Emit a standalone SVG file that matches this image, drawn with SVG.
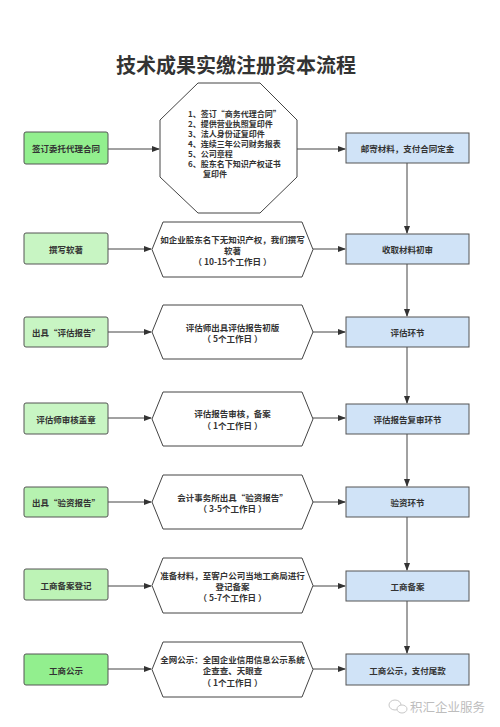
<svg xmlns="http://www.w3.org/2000/svg" width="500" height="727" viewBox="0 0 500 727">
<style>
text{font-family:"Noto Sans CJK SC","Liberation Sans",sans-serif;font-weight:bold;fill:#333;}
.t{font-size:8.5px;text-anchor:middle;dominant-baseline:central;}
.ol{font-size:8px;dominant-baseline:central;}
.g1{fill:#92ef8e;stroke:#555;stroke-width:1;}
.g2{fill:#c8f5c3;stroke:#555;stroke-width:1;}
.b{fill:#d0e3f7;stroke:#555;stroke-width:1;}
.s{fill:#fff;stroke:#444;stroke-width:1;}
.c{stroke:#444;stroke-width:1;fill:none;marker-end:url(#ah);}
</style>
<defs>
<marker id="ah" markerWidth="8" markerHeight="6" refX="7" refY="3" orient="auto" markerUnits="userSpaceOnUse">
<path d="M0,0 L8,3 L0,6 Z" fill="#333"/>
</marker>
</defs>
<rect width="500" height="727" fill="#fff"/>
<text x="236" y="73" style="font-size:20px;text-anchor:middle;fill:#333;">技术成果实缴注册资本流程</text>

<g id="connectors">
<line class="c" x1="108" y1="149" x2="159" y2="149"/>
<line class="c" x1="297" y1="149" x2="345" y2="149"/>
<line class="c" x1="108" y1="249" x2="151" y2="249"/>
<line class="c" x1="313" y1="249" x2="345" y2="249"/>
<line class="c" x1="108" y1="332" x2="151" y2="332"/>
<line class="c" x1="313" y1="332" x2="345" y2="332"/>
<line class="c" x1="108" y1="418" x2="151" y2="418"/>
<line class="c" x1="313" y1="418" x2="345" y2="418"/>
<line class="c" x1="108" y1="502" x2="151" y2="502"/>
<line class="c" x1="313" y1="502" x2="345" y2="502"/>
<line class="c" x1="108" y1="586" x2="151" y2="586"/>
<line class="c" x1="313" y1="586" x2="345" y2="586"/>
<line class="c" x1="108" y1="669" x2="151" y2="669"/>
<line class="c" x1="313" y1="669" x2="345" y2="669"/>
<line class="c" x1="407" y1="163" x2="407" y2="233"/>
<line class="c" x1="407" y1="264" x2="407" y2="316"/>
<line class="c" x1="407" y1="347" x2="407" y2="403"/>
<line class="c" x1="407" y1="434" x2="407" y2="486"/>
<line class="c" x1="407" y1="517" x2="407" y2="570"/>
<line class="c" x1="407" y1="601" x2="407" y2="653"/>
</g>

<g id="l1"><rect class="g1" x="24" y="132" width="84" height="32" rx="2"/><text class="t" x="66" y="148">签订委托代理合同</text></g>
<g id="m1"><polygon class="s" points="198,83 260,83 297,120 297,177 260,213 198,213 160,177 160,120"/>
<text class="ol" x="188" y="113">1、签订“商务代理合同”</text>
<text class="ol" x="188" y="123">2、提供营业执照复印件</text>
<text class="ol" x="188" y="133">3、法人身份证复印件</text>
<text class="ol" x="188" y="143">4、连续三年公司财务报表</text>
<text class="ol" x="188" y="153">5、公司章程</text>
<text class="ol" x="188" y="163">6、股东名下知识产权证书</text>
<text class="ol" x="203" y="173">复印件</text>
</g>
<g id="r1"><rect class="b" x="346" y="133" width="123" height="30"/><text class="t" x="407.5" y="148">邮寄材料，支付合同定金</text></g>

<g id="l2"><rect class="g2" x="24" y="233" width="84" height="31" rx="2"/><text class="t" x="66" y="248.5">撰写软著</text></g>
<g id="m2"><polygon class="s" points="163,222 302,222 313,249.5 302,277 163,277 152,249.5"/>
<text class="t" x="232.5" y="239">如企业股东名下无知识产权，我们撰写</text>
<text class="t" x="232.5" y="250">软著</text>
<text class="t" x="232.5" y="261">（ 10-15个工作日 ）</text></g>
<g id="r2"><rect class="b" x="346" y="234" width="123" height="30"/><text class="t" x="407.5" y="249">收取材料初审</text></g>

<g id="l3"><rect class="g2" x="24" y="317" width="84" height="30" rx="2"/><text class="t" x="66" y="332">出具“评估报告”</text></g>
<g id="m3"><polygon class="s" points="163,305 302,305 313,332 302,359 163,359 152,332"/>
<text class="t" x="232.5" y="327">评估师出具评估报告初版</text>
<text class="t" x="232.5" y="338">（ 5个工作日 ）</text></g>
<g id="r3"><rect class="b" x="346" y="317" width="123" height="30"/><text class="t" x="407.5" y="332">评估环节</text></g>

<g id="l4"><rect class="g2" x="24" y="403" width="84" height="31" rx="2"/><text class="t" x="66" y="418.5">评估师审核盖章</text></g>
<g id="m4"><polygon class="s" points="163,392 302,392 313,419 302,446 163,446 152,419"/>
<text class="t" x="232.5" y="413">评估报告审核，备案</text>
<text class="t" x="232.5" y="425">（ 1个工作日 ）</text></g>
<g id="r4"><rect class="b" x="346" y="404" width="123" height="30"/><text class="t" x="407.5" y="419">评估报告复审环节</text></g>

<g id="l5"><rect class="g2" x="24" y="487" width="84" height="30" rx="2" style="fill:#b6f2b0"/><text class="t" x="66" y="502">出具“验资报告”</text></g>
<g id="m5"><polygon class="s" points="163,475 302,475 313,502 302,529 163,529 152,502"/>
<text class="t" x="232.5" y="497">会计事务所出具“验资报告”</text>
<text class="t" x="232.5" y="508">（ 3-5个工作日 ）</text></g>
<g id="r5"><rect class="b" x="346" y="487" width="123" height="30"/><text class="t" x="407.5" y="502">验资环节</text></g>

<g id="l6"><rect class="g2" x="24" y="569" width="84" height="31" rx="2" style="fill:#bdf3b6"/><text class="t" x="66" y="584.5">工商备案登记</text></g>
<g id="m6"><polygon class="s" points="163,558 302,558 313,585.5 302,613 163,613 152,585.5"/>
<text class="t" x="232.5" y="575">准备材料，至客户公司当地工商局进行</text>
<text class="t" x="232.5" y="586">登记备案</text>
<text class="t" x="232.5" y="597">（ 5-7个工作日 ）</text></g>
<g id="r6"><rect class="b" x="346" y="571" width="123" height="30"/><text class="t" x="407.5" y="586">工商备案</text></g>

<g id="l7"><rect class="g1" x="24" y="654" width="84" height="31" rx="2"/><text class="t" x="66" y="669.5">工商公示</text></g>
<g id="m7"><polygon class="s" points="163,642 302,642 313,669.5 302,697 163,697 152,669.5"/>
<text class="t" x="232.5" y="659">全网公示：全国企业信用信息公示系统</text>
<text class="t" x="232.5" y="670">企查查、天眼查</text>
<text class="t" x="232.5" y="682">（ 1个工作日 ）</text></g>
<g id="r7"><rect class="b" x="346" y="654" width="123" height="31"/><text class="t" x="407.5" y="669.5">工商公示，支付尾款</text></g>

<g id="watermark">
<ellipse cx="395" cy="705" rx="6" ry="5" fill="none" stroke="#c8c8c8" stroke-width="1"/>
<ellipse cx="402" cy="709" rx="5" ry="4" fill="#fff" stroke="#c8c8c8" stroke-width="1"/>
<text x="410" y="712" style="font-size:12.5px;font-weight:normal;fill:#bdbdbd;">积汇企业服务</text>
</g>
</svg>
